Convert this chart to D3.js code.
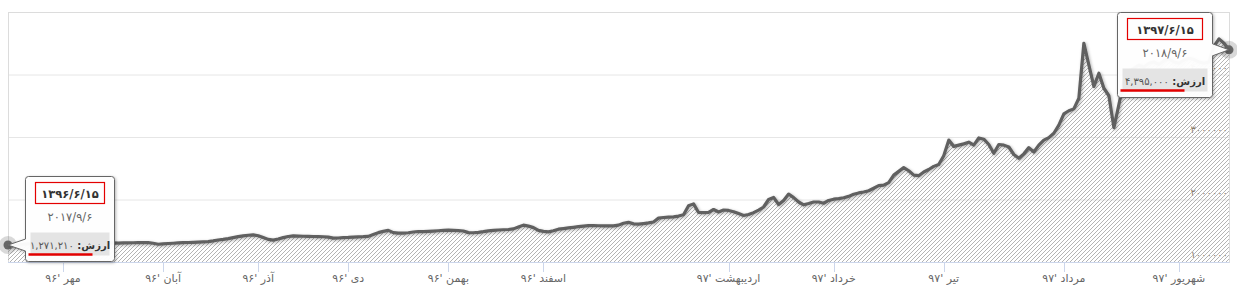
<!DOCTYPE html>
<html>
<head>
<meta charset="utf-8">
<script src="https://cdn.jsdelivr.net/npm/d3@7"></script>
<style>
  body { margin: 0; background: #fff; }
  svg { display: block; font-family: "DejaVu Sans", sans-serif; }
</style>
</head>
<body>
<div id="chart"></div>
<script>

// price per trading day, in thousands
const values = [
  1271.21, 1275, 1280, 1284, 1290, 1288, 1293, 1296, 1292, 1298, 1301, 1296, 1300, 1304, 1302, 1306, 1303, 1307, 1305, 1308, 1306, 1305,
  1302, 1305, 1306, 1308, 1310, 1309, 1311, 1300, 1284, 1290, 1296, 1300, 1305, 1310, 1312, 1315, 1318, 1322, 1326, 1338, 1352, 1362, 1375, 1390, 1405, 1418, 1428, 1434,
  1420, 1392, 1362, 1350, 1368, 1390, 1408, 1418, 1415, 1412, 1410, 1408, 1406, 1404, 1398, 1381, 1384, 1390, 1393, 1398, 1402, 1405, 1410,
  1440, 1470, 1490, 1506, 1470, 1462, 1462, 1468, 1480, 1488, 1486, 1490, 1495, 1500, 1505, 1509, 1506, 1503, 1496, 1470, 1468, 1475, 1485, 1498, 1505, 1512, 1516, 1520, 1530, 1560, 1590, 1575, 1550, 1505, 1490, 1482,
  1500, 1525, 1535, 1545, 1555, 1565, 1575, 1583, 1582, 1580, 1578, 1577, 1578, 1590, 1620, 1635, 1610, 1606, 1615, 1625, 1640, 1702, 1712, 1718, 1722, 1735, 1755, 1900, 1930, 1792, 1790, 1795, 1840, 1800, 1832, 1825, 1805, 1775, 1744, 1760, 1790, 1831,
  1880, 2000, 2033, 1920, 1985, 2087, 2030, 1960, 1915, 1935, 1960, 1960, 1940, 1985, 2005, 2015, 2028, 2050, 2085, 2105, 2120, 2141, 2180, 2221, 2230, 2270, 2390, 2450, 2510, 2460, 2390, 2381, 2440, 2480, 2530, 2560,
  2700, 2950, 2850, 2870, 2890, 2917, 2870, 2985, 2965, 2880, 2740, 2880, 2870, 2840, 2720, 2660, 2730, 2830, 2760, 2870, 2950, 2990, 3060, 3190, 3370, 3420, 3450, 3620, 4500, 4150, 3810, 4020, 3780, 3660, 3150, 3520,
  3900, 4050, 4100, 4150, 4120, 4180, 4200, 4160, 4220, 4250, 4200, 4180, 4230, 4260, 4240, 4200, 4180, 4200, 4450, 4570, 4500, 4395
]

// month starts (trading day index) and their labels
const monthIdx = [11, 31, 50, 68, 88, 107, 144, 165, 187, 211, 234]
const monthLabels = ["مهر '۹۶", "آبان '۹۶", "آذر '۹۶", "دی '۹۶", "بهمن '۹۶", "اسفند '۹۶",
                     "اردیبهشت '۹۷", "خرداد '۹۷", "تیر '۹۷", "مرداد '۹۷", "شهریور '۹۷"]

const yTicks = [1000, 2000, 3000, 4000]

// tooltips: first and last point
const tipJalali = ["۱۳۹۶/۶/۱۵", "۱۳۹۷/۶/۱۵"]
const tipGregorian = ["۲۰۱۷/۹/۶", "۲۰۱۸/۹/۶"]

const fa = s => String(s).replace(/[0-9]/g, d => "۰۱۲۳۴۵۶۷۸۹"[d])

const W = 1237, H = 306
const plot = {left: 8, right: 1229, top: 12, bottom: 262}

const svg = d3.select("#chart").append("svg")
    .attr("width", W)
    .attr("height", H)

const defs = svg.append("defs")

const pat = defs.append("pattern")
    .attr("id", "hatch")
    .attr("patternUnits", "userSpaceOnUse")
    .attr("width", 4).attr("height", 4)
pat.append("path")
    .attr("d", "M-1,1 L1,-1 M0,4 L4,0 M3,5 L5,3")
    .attr("stroke", "#b4b4b4")
    .attr("stroke-width", 1)

const shadow = defs.append("filter").attr("id", "shadow")
    .attr("x", "-20%").attr("y", "-20%").attr("width", "140%").attr("height", "140%")
shadow.append("feDropShadow")
    .attr("dx", 1).attr("dy", 1).attr("stdDeviation", 1.5)
    .attr("flood-color", "#000").attr("flood-opacity", 0.3)

const xScale = d3.scaleLinear()
    .domain([0, values.length - 1])
    .range([plot.left, plot.right])

const yScale = d3.scaleLinear()
    .domain([1000, 5000])
    .range([plot.bottom, plot.top])

// grid
svg.append("g")
    .selectAll("line")
    .data([2000, 3000, 4000])
    .join("line")
    .attr("x1", plot.left).attr("x2", plot.right)
    .attr("y1", d => yScale(d) + 0.5).attr("y2", d => yScale(d) + 0.5)
    .attr("stroke", "#e6e6e6")

svg.append("rect")
    .attr("x", plot.left + 0.5).attr("y", plot.top + 0.5)
    .attr("width", plot.right - plot.left).attr("height", plot.bottom - plot.top)
    .attr("fill", "none")
    .attr("stroke", "#dcdcdc")

// area + line
const area = d3.area()
    .x((d, i) => xScale(i))
    .y0(yScale(1000))
    .y1(d => yScale(d))

svg.append("path")
    .datum(values)
    .attr("d", area)
    .attr("fill", "url(#hatch)")

const line = d3.line()
    .x((d, i) => xScale(i))
    .y(d => yScale(d))

svg.append("path")
    .datum(values)
    .attr("d", line)
    .attr("fill", "none")
    .attr("stroke", "#606060")
    .attr("stroke-width", 3.2)
    .attr("stroke-linejoin", "round")
    .attr("filter", "url(#shadow)")

// y labels inside the plot, right side
svg.append("g")
    .selectAll("text")
    .data(yTicks)
    .join("text")
    .attr("x", plot.right - 1)
    .attr("y", d => yScale(d) - 4)
    .attr("text-anchor", "end")
    .attr("font-size", 10)
    .attr("fill", "#8a7a6a")
    .attr("stroke", "#fff")
    .attr("stroke-width", 0.6)
    .attr("paint-order", "stroke")
    .text(d => fa(d * 1000))

// x axis
const xAxis = svg.append("g")
    .attr("transform", `translate(0, ${plot.bottom})`)

xAxis.append("line")
    .attr("x1", plot.left).attr("x2", plot.right)
    .attr("y1", 0.5).attr("y2", 0.5)
    .attr("stroke", "#ccd6eb")

xAxis.selectAll(".tick")
    .data(monthIdx)
    .join("line")
    .attr("class", "tick")
    .attr("x1", d => Math.round(xScale(d)) + 0.5).attr("x2", d => Math.round(xScale(d)) + 0.5)
    .attr("y1", 0).attr("y2", 10)
    .attr("stroke", "#ccd6eb")

xAxis.selectAll(".lbl")
    .data(monthIdx)
    .join("text")
    .attr("class", "lbl")
    .attr("x", d => xScale(d))
    .attr("y", 20)
    .attr("text-anchor", "middle")
    .attr("direction", "rtl")
    .attr("font-size", 11)
    .attr("fill", "#666")
    .text((d, i) => monthLabels[i])

// hover markers
const ends = [0, values.length - 1]
svg.append("g")
    .selectAll("circle")
    .data(ends)
    .join("circle")
    .attr("cx", d => xScale(d)).attr("cy", d => yScale(values[d]))
    .attr("r", 9)
    .attr("fill", "#666")
    .attr("fill-opacity", 0.25)

svg.append("g")
    .selectAll("circle")
    .data(ends)
    .join("circle")
    .attr("cx", d => xScale(d)).attr("cy", d => yScale(values[d]))
    .attr("r", 4.5)
    .attr("fill", "#666")

// tooltips
function callout(x, y, w, h, ax, ay, side) {
    const r = 3
    const p = d3.path()
    p.moveTo(x + r, y)
    p.lineTo(x + w - r, y)
    p.quadraticCurveTo(x + w, y, x + w, y + r)
    if (side === "right") {
        p.lineTo(x + w, ay - 6)
        p.lineTo(ax, ay)
        p.lineTo(x + w, ay + 6)
    }
    p.lineTo(x + w, y + h - r)
    p.quadraticCurveTo(x + w, y + h, x + w - r, y + h)
    p.lineTo(x + r, y + h)
    p.quadraticCurveTo(x, y + h, x, y + h - r)
    if (side === "left") {
        p.lineTo(x, ay + 6)
        p.lineTo(ax, ay)
        p.lineTo(x, ay - 6)
    }
    p.lineTo(x, y + r)
    p.quadraticCurveTo(x, y, x + r, y)
    p.closePath()
    return p.toString()
}

const tips = [
    {i: 0, x: 25.5, y: 176.5, w: 89, h: 85, side: "left"},
    {i: values.length - 1, x: 1117.5, y: 12.5, w: 95, h: 85, side: "right"}
]

tips.forEach((t, k) => {
    const ax = xScale(t.i), ay = yScale(values[t.i])
    const g = svg.append("g")
    g.append("path")
        .attr("d", callout(t.x, t.y, t.w, t.h, ax, ay, t.side))
        .attr("fill", "#fff")
        .attr("fill-opacity", 0.96)
        .attr("stroke", "#666")
        .attr("stroke-width", 1)
        .attr("filter", "url(#shadow)")

    const cx = t.x + t.w / 2
    g.append("rect")
        .attr("x", t.x + 10).attr("y", t.y + 6)
        .attr("width", t.w - 20).attr("height", 21)
        .attr("fill", "none")
        .attr("stroke", "#e30000")
        .attr("stroke-width", 1.2)
    g.append("text")
        .attr("x", cx).attr("y", t.y + 21)
        .attr("text-anchor", "middle")
        .attr("font-size", 11.5)
        .attr("font-weight", "bold")
        .attr("fill", "#333")
        .text(tipJalali[k])
    g.append("text")
        .attr("x", cx).attr("y", t.y + 44)
        .attr("text-anchor", "middle")
        .attr("font-size", 11.5)
        .attr("fill", "#666")
        .text(tipGregorian[k])

    g.append("rect")
        .attr("x", t.x + 5).attr("y", t.y + 56)
        .attr("width", t.w - 10).attr("height", 23)
        .attr("fill", "#e4e4e4")
    const txt = g.append("text")
        .attr("x", cx).attr("y", t.y + 72)
        .attr("text-anchor", "middle")
        .attr("direction", "rtl")
        .attr("font-size", 10)
        .attr("fill", "#333")
    txt.append("tspan").attr("font-weight", "bold").text("ارزش: ")
    txt.append("tspan").attr("fill", "#555").text(fa(d3.format(",")(Math.round(values[t.i] * 1000))))

    g.append("line")
        .attr("x1", t.x + 3).attr("x2", t.x + 67)
        .attr("y1", t.y + 78).attr("y2", t.y + 78)
        .attr("stroke", "#e30000")
        .attr("stroke-width", 2.5)
})

</script>
</body>
</html>
